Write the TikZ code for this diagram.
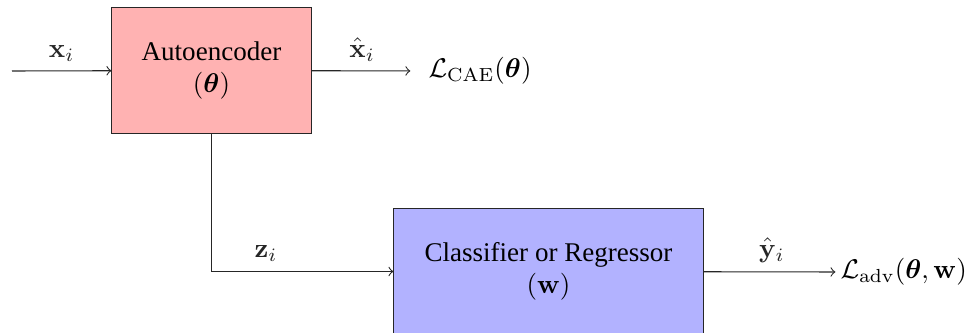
\documentclass[tikz,border=0pt]{standalone}
\usepackage{amsmath,amssymb}
\usepackage[no-math]{fontspec}
\setmainfont{Liberation Serif}
\usetikzlibrary{positioning}
\tikzset{
  block/.style = {rectangle, draw=black!85, align=center,
                  minimum height=1.64cm},
  arrow/.style = {->, thin, black!85},
}

\begin{document}
\begin{tikzpicture}[
  x=0.013cm, y=-0.013cm,
  lbl/.style={above},
  loss/.style={anchor=west, inner sep=0pt},
]
  \useasboundingbox (0,0) rectangle (971,333);

  \coordinate (in) at (12,71);
  \node[block, fill=red!30, minimum width=2.59cm] (ae) at (211.5,70.5)
    {Autoencoder\\$(\boldsymbol{\theta})$};
  \node[block, fill=blue!30, minimum width=4.02cm] (clf) at (548.5,271.5)
    {Classifier or Regressor\\$(\mathbf{w})$};

  \node[loss] (lcae) at (428,71) {$\mathcal{L}_{\mathrm{CAE}}(\boldsymbol{\theta})$};
  \node[loss] (ladv) at (840,272) {$\mathcal{L}_{\mathrm{adv}}(\boldsymbol{\theta},\mathbf{w})$};

  \draw[arrow] (in) -- node[lbl] {$\mathbf{x}_i$} (ae);
  \draw[arrow, shorten >=0.23cm] (ae) -- node[lbl, xshift=-0.1cm] {$\hat{\mathbf{x}}_i$} (lcae.west);
  \draw[arrow] (ae) |- node[lbl, pos=0.65] {$\mathbf{z}_i$} (clf);
  \draw[arrow, shorten >=0.06cm] (clf) -- node[lbl] {$\hat{\mathbf{y}}_i$} (ladv.west);
\end{tikzpicture}
\end{document}
